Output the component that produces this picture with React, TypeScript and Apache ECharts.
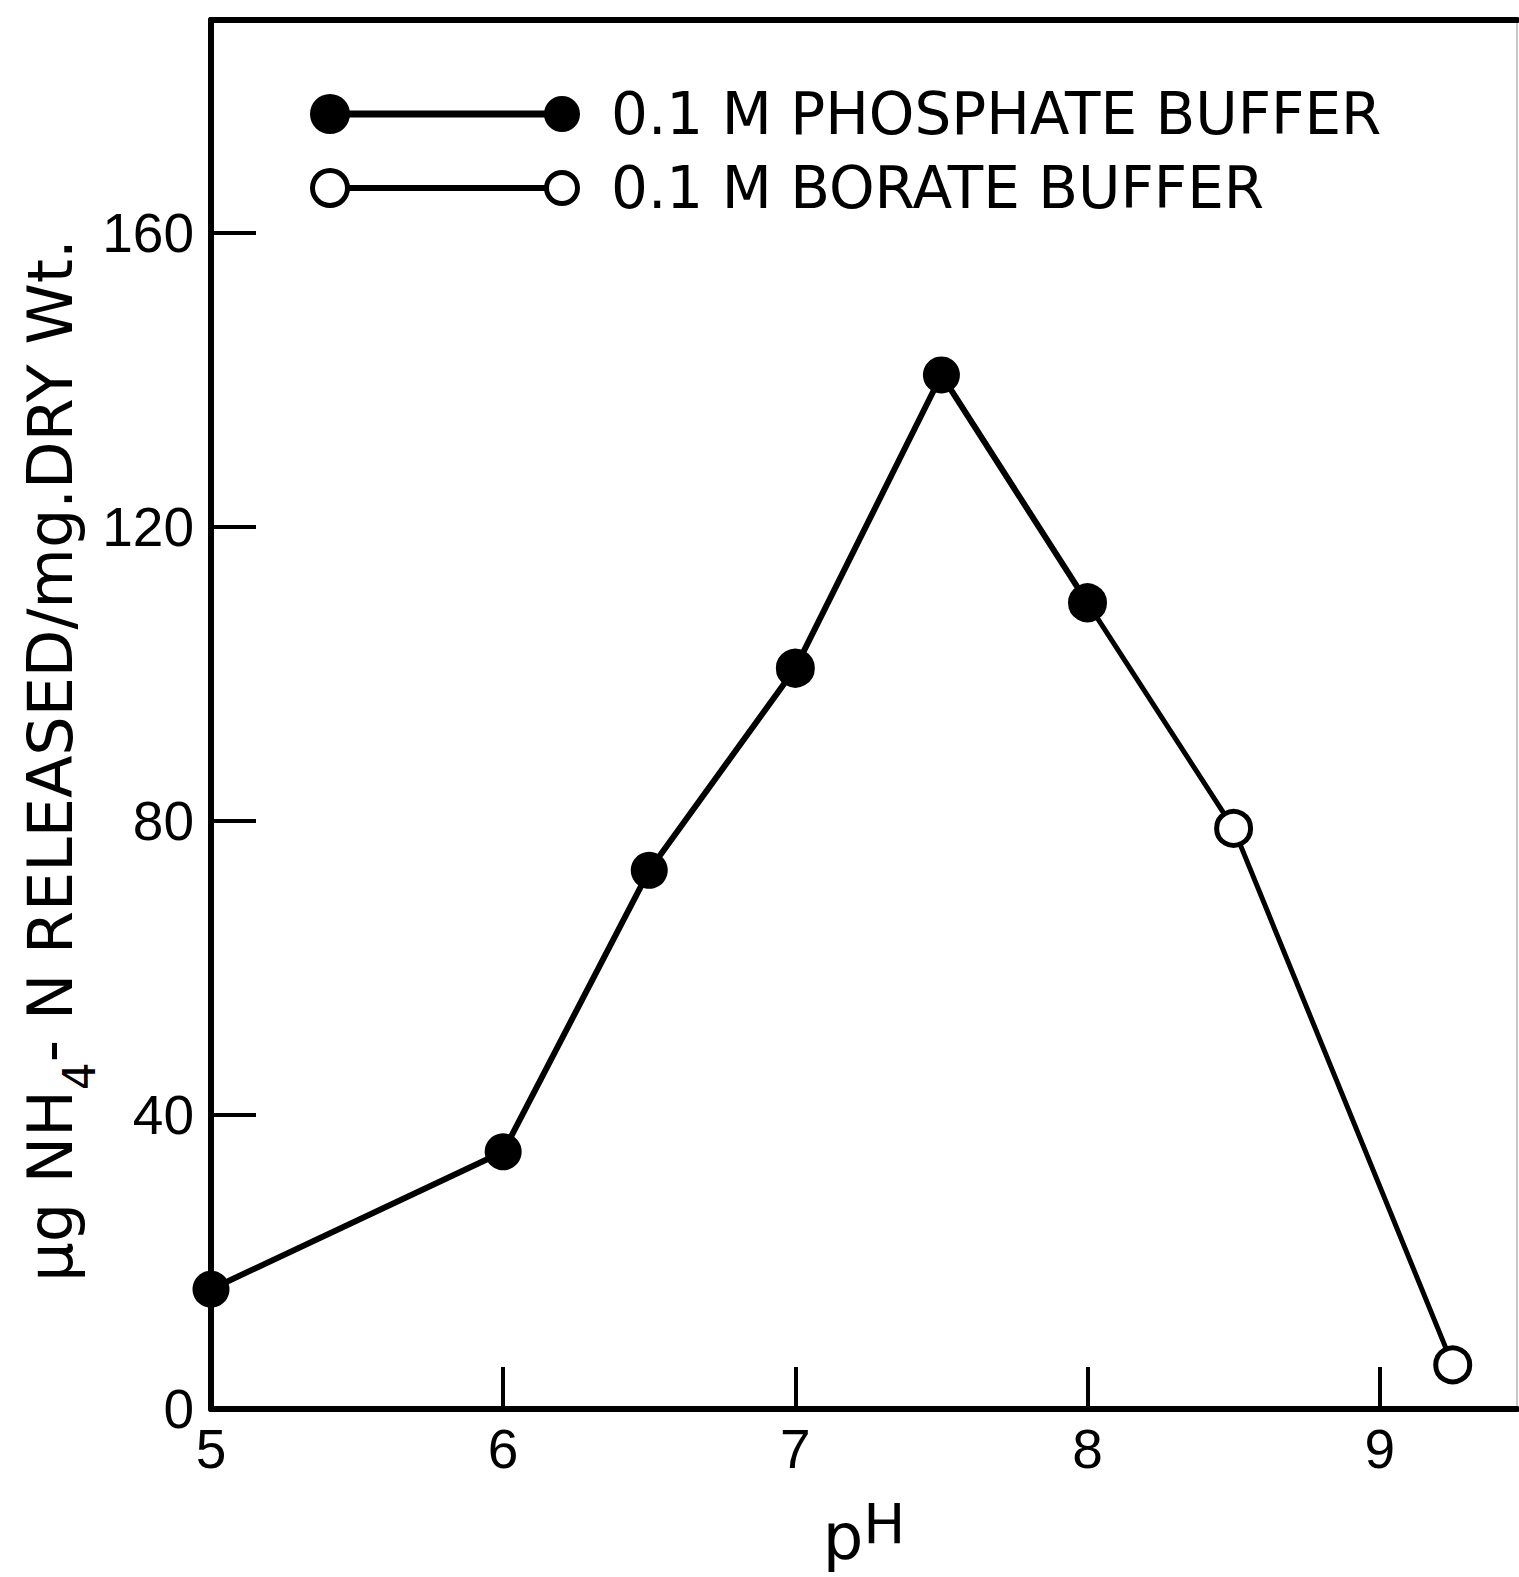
import React, { useEffect, useRef } from 'react';
import * as echarts from 'echarts';

// ---- data ----
const phosphatePH = [5, 6, 6.5, 7, 7.5, 8];
const phosphateN = [16.3, 35, 73.3, 100.8, 140.7, 109.7];
const boratePH = [7, 7.5, 8, 8.5, 9.25];
const borateN: (number | null)[] = [100.8, null, 109.7, 79, 6];

const xTickValues = [6, 7, 8, 9];
const xLabelValues = [5, 6, 7, 8, 9];
const yTickValues = [40, 80, 120, 160];
const yLabelValues = [0, 40, 80, 120, 160];

const legendNames = ['0.1 M PHOSPHATE BUFFER', '0.1 M BORATE BUFFER'];
const xNameParts = ['p', 'H'];
const yNameParts = ['μg NH', '4', '- N RELEASED/mg.DRY Wt.'];

const FONT = 'DejaVu Sans';
const NUM_FONT = 'Liberation Sans';

const filledIcon =
  'path://M0,20 A20,20 0 1,1 40,20 A20,20 0 1,1 0,20 Z ' +
  'M38,16.5 L236,16.5 L236,23.5 L38,23.5 Z ' +
  'M234,20 A18,18 0 1,1 270,20 A18,18 0 1,1 234,20 Z';
const openIcon =
  'path://M0,20 A20,20 0 1,1 40,20 A20,20 0 1,1 0,20 Z ' +
  'M5,20 A15,15 0 1,0 35,20 A15,15 0 1,0 5,20 Z ' +
  'M39,17 L236,17 L236,23 L39,23 Z ' +
  'M234,20 A18,18 0 1,1 270,20 A18,18 0 1,1 234,20 Z ' +
  'M239,20 A13,13 0 1,0 265,20 A13,13 0 1,0 239,20 Z';

export default function App() {
  const ref = useRef<HTMLDivElement>(null);

  useEffect(() => {
    if (!ref.current) return;
    const chart = echarts.init(ref.current, null, { renderer: 'svg' });

    const phosphateData = phosphatePH.map((x, i) => [x, phosphateN[i]]);
    const borateData = boratePH.map((x, i) => [x, borateN[i] === null ? '-' : borateN[i]]);

    chart.setOption({
      animation: false,
      backgroundColor: '#ffffff',
      textStyle: { fontFamily: FONT },
      grid: { left: 211, right: 2, top: 20, bottom: 168, outerBoundsMode: 'none', containLabel: false },
      legend: {
        left: 305,
        top: 80,
        orient: 'vertical',
        itemWidth: 270,
        itemHeight: 40,
        itemGap: 16,
        selectedMode: false,
        symbolKeepAspect: false,
        textStyle: {
          fontSize: 58,
          color: '#000',
          fontFamily: FONT,
          lineHeight: 40,
          padding: [0, 0, 0, 26],
        },
        data: [
          { name: legendNames[0], icon: filledIcon, itemStyle: { color: '#000', borderWidth: 0 } },
          { name: legendNames[1], icon: openIcon, itemStyle: { color: '#000', borderWidth: 0 } },
        ],
      },
      xAxis: [
        {
          type: 'value',
          min: 5,
          max: 9.47,
          position: 'bottom',
          axisLine: { show: true, onZero: false, lineStyle: { color: '#000', width: 6 } },
          axisTick: {
            show: true,
            inside: true,
            length: 42,
            customValues: xTickValues,
            lineStyle: { color: '#000', width: 4 },
          },
          axisLabel: {
            customValues: xLabelValues,
            fontSize: 55,
            color: '#000',
            margin: 12,
            fontFamily: NUM_FONT,
          },
          splitLine: { show: false },
          name: `{p|${xNameParts[0]}}{h|${xNameParts[1]}}`,
          nameLocation: 'middle',
          nameGap: 86,
          nameTextStyle: {
            rich: {
              p: { fontSize: 64, lineHeight: 74, verticalAlign: 'bottom', color: '#000', fontFamily: FONT },
              h: { fontSize: 56, lineHeight: 46, verticalAlign: 'top', color: '#000', fontFamily: FONT },
            },
          },
        },
        {
          type: 'value',
          min: 5,
          max: 9.47,
          position: 'top',
          axisLine: { show: true, onZero: false, lineStyle: { color: '#000', width: 6 } },
          axisTick: { show: false },
          axisLabel: { show: false },
          splitLine: { show: false },
        },
      ],
      yAxis: [
        {
          type: 'value',
          min: 0,
          max: 189,
          position: 'left',
          axisLine: { show: true, onZero: false, lineStyle: { color: '#000', width: 6 } },
          axisTick: {
            show: true,
            inside: true,
            length: 45,
            customValues: yTickValues,
            lineStyle: { color: '#000', width: 4 },
          },
          axisLabel: {
            customValues: yLabelValues,
            fontSize: 55,
            color: '#000',
            margin: 17,
            fontFamily: NUM_FONT,
          },
          splitLine: { show: false },
          name: `{a|${yNameParts[0]}}{s|${yNameParts[1]}}{a|${yNameParts[2]}}`,
          nameLocation: 'middle',
          nameRotate: 90,
          nameGap: 122,
          nameMoveOverlap: false,
          nameTextStyle: {
            padding: [0, 92, 0, 0],
            rich: {
              a: { fontSize: 62, lineHeight: 70, verticalAlign: 'top', color: '#000', fontFamily: FONT },
              s: {
                fontSize: 44,
                lineHeight: 46,
                padding: [38, 0, 0, 0],
                verticalAlign: 'top',
                color: '#000',
                fontFamily: FONT,
              },
            },
          },
        },
        {
          type: 'value',
          min: 0,
          max: 189,
          position: 'right',
          axisLine: { show: true, onZero: false, lineStyle: { color: '#c8c8c8', width: 2 } },
          axisTick: { show: false },
          axisLabel: { show: false },
          splitLine: { show: false },
        },
      ],
      series: [
        {
          name: legendNames[1],
          type: 'line',
          data: borateData,
          connectNulls: false,
          symbol: 'circle',
          symbolSize: 34,
          itemStyle: { color: '#ffffff', borderColor: '#000', borderWidth: 5 },
          lineStyle: { color: '#000', width: 5 },
          z: 2,
        },
        {
          name: legendNames[0],
          type: 'line',
          data: phosphateData,
          symbol: 'circle',
          symbolSize: 37,
          itemStyle: { color: '#000', borderWidth: 0 },
          lineStyle: { color: '#000', width: 6 },
          z: 3,
        },
      ],
    });

    return () => chart.dispose();
  }, []);

  return (
    <div
      ref={ref}
      style={{ position: 'absolute', left: 0, top: 0, width: 1519, height: 1577 }}
    />
  );
}
